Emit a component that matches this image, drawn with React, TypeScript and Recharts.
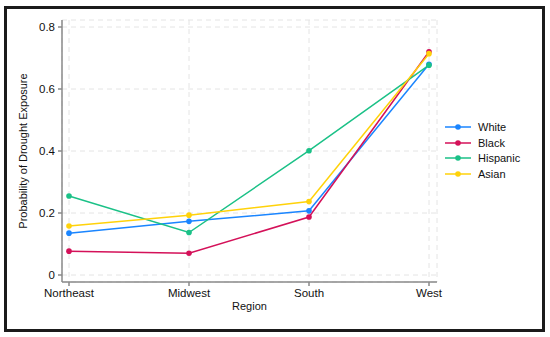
import React from 'react'
import { LineChart, Line, XAxis, YAxis, CartesianGrid } from 'recharts'

const regions = ['Northeast', 'Midwest', 'South', 'West']
const white = [0.135, 0.173, 0.207, 0.68]
const black = [0.077, 0.07, 0.187, 0.72]
const hispanic = [0.255, 0.137, 0.401, 0.677]
const asian = [0.158, 0.193, 0.237, 0.714]
const yTicks = [0, 0.2, 0.4, 0.6, 0.8]

const series = [
  { key: 'White', values: white, color: '#1A85FF' },
  { key: 'Black', values: black, color: '#D41159' },
  { key: 'Hispanic', values: hispanic, color: '#1BC187' },
  { key: 'Asian', values: asian, color: '#FFD20A' },
]

const data = regions.map((region, i) => {
  const row: Record<string, string | number> = { region }
  series.forEach((s) => {
    row[s.key] = s.values[i]
  })
  return row
})

const font = '"Liberation Sans", Arial, Helvetica, sans-serif'
const axisColor = '#8a8a8a'
const tick = { fill: '#111', fontSize: 11.5, fontFamily: font }

function LegendBox() {
  return (
    <div
      style={{
        position: 'absolute',
        left: 445,
        top: 119,
        fontFamily: font,
        fontSize: 11,
        color: '#111',
      }}
    >
      {series.map((s) => (
        <div
          key={s.key}
          style={{ display: 'flex', alignItems: 'center', height: 15.7 }}
        >
          <svg width={26} height={8} style={{ marginRight: 7 }}>
            <line x1={0} y1={4} x2={26} y2={4} stroke={s.color} strokeWidth={1.5} />
            <circle cx={13} cy={4} r={2.8} fill={s.color} />
          </svg>
          <span>{s.key}</span>
        </div>
      ))}
    </div>
  )
}

export default function App() {
  return (
    <div
      style={{
        position: 'absolute',
        left: 0,
        top: 0,
        width: 550,
        height: 337,
        background: '#fff',
      }}
    >
      <div
        style={{
          position: 'absolute',
          left: 4,
          top: 6,
          width: 541,
          height: 326,
          boxSizing: 'border-box',
          border: '3px solid #1b1b1b',
        }}
      />
      <div style={{ position: 'absolute', left: 0, top: 0 }}>
        <LineChart
          width={550}
          height={337}
          data={data}
          margin={{ top: 20, right: 113, bottom: 25, left: 0 }}
        >
          <CartesianGrid stroke="#e4e4e4" strokeDasharray="5 4" />
          <XAxis
            dataKey="region"
            padding={{ left: 7, right: 8 }}
            height={30}
            tick={tick}
            tickSize={4}
            tickMargin={3}
            stroke={axisColor}
            strokeWidth={1.5}
            label={{
              value: 'Region',
              position: 'insideBottom',
              offset: 2,
              fill: '#111',
              fontSize: 11,
              fontFamily: font,
            }}
          />
          <YAxis
            type="number"
            domain={[0, 0.8]}
            ticks={yTicks}
            width={62}
            padding={{ top: 7, bottom: 7 }}
            tick={tick}
            tickSize={4}
            tickMargin={3}
            stroke={axisColor}
            strokeWidth={1.5}
            tickFormatter={(v: number) => (v === 0 ? '0' : v.toFixed(1))}
            label={{
              value: 'Probability of Drought Exposure',
              angle: -90,
              position: 'insideLeft',
              offset: 23,
              fill: '#111',
              fontSize: 11,
              fontFamily: font,
              style: { textAnchor: 'middle' },
            }}
          />
          {series.map((s) => (
            <Line
              key={s.key}
              dataKey={s.key}
              type="linear"
              stroke={s.color}
              strokeWidth={1.5}
              dot={{ r: 2.8, fill: s.color, stroke: s.color, strokeWidth: 0 }}
              activeDot={false}
              isAnimationActive={false}
            />
          ))}
        </LineChart>
      </div>
      <LegendBox />
    </div>
  )
}
